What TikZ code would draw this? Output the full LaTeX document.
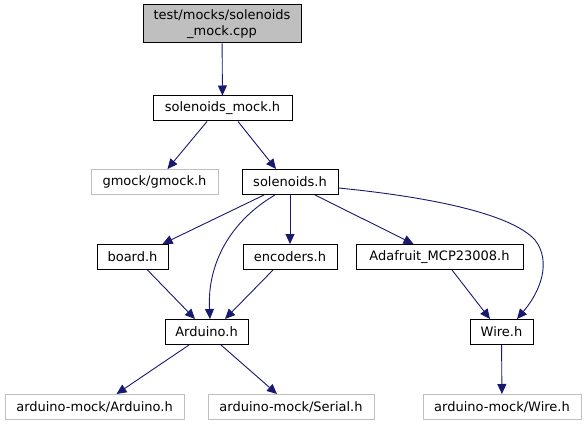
\documentclass[tikz,border=0pt]{standalone}
\usepackage{fontspec}
\setmainfont{DejaVu Sans}
\usetikzlibrary{arrows.meta}
\definecolor{edgeblue}{HTML}{191970}
\definecolor{greyfill}{HTML}{BFBFBF}
\begin{document}
\begin{tikzpicture}[x=1pt,y=-1pt,
  box/.style={draw=black, line width=1pt, rectangle, inner sep=0pt, minimum height=25pt,
    font=\fontsize{13}{16}\selectfont, fill=white},
  ext/.style={box, draw=greyfill},
  edge/.style={draw=edgeblue, line width=0.9pt, -{Triangle[length=10pt,width=9pt]}}]
\useasboundingbox[fill=white] (0,0) rectangle (586,425);

\node[box, minimum width=158pt, minimum height=38pt, fill=greyfill, align=center] (top) at (222,24) {test/mocks/solenoids\\\_mock.cpp};
\node[box, minimum width=139pt] (smock) at (222.5,108.5) {solenoids\_mock.h};
\node[ext, minimum width=127pt] (gmock) at (154.5,182) {gmock/gmock.h};
\node[box, minimum width=96pt] (sol) at (290,182) {solenoids.h};
\node[box, minimum width=71pt] (board) at (132.5,257) {board.h};
\node[box, minimum width=94pt] (enc) at (290,257) {encoders.h};
\node[box, minimum width=167pt] (ada) at (439.5,257) {Adafruit\_MCP23008.h};
\node[box, minimum width=83pt] (ard) at (206.5,332) {Arduino.h};
\node[box, minimum width=63pt] (wire) at (501.5,332) {Wire.h};
\node[ext, minimum width=179pt] (mard) at (94.5,407) {arduino-mock/Arduino.h};
\node[ext, minimum width=166pt] (mser) at (291,407) {arduino-mock/Serial.h};
\node[ext, minimum width=158pt] (mwire) at (502,407) {arduino-mock/Wire.h};

\draw[edge] (top) -- (smock);
\draw[edge] ([xshift=-15.5pt]smock.south) -- ([xshift=13pt]gmock.north);
\draw[edge] ([xshift=15.5pt]smock.south) -- ([xshift=-14pt]sol.north);
\draw[edge] ([xshift=-26pt]sol.south) -- ([xshift=30pt]board.north);
\draw[edge] ([xshift=-15pt]sol.south) .. controls (232,220) and (207,262) .. ([xshift=3.5pt]ard.north);
\draw[edge] (sol) -- (enc);
\draw[edge] ([xshift=25pt]sol.south) -- ([xshift=-26pt]ada.north);
\draw[edge] ([yshift=-6pt]sol.east) .. controls (420,196) and (510,212) .. (535,240)
  .. controls (552,262) and (540,292) .. ([xshift=15.5pt]wire.north);
\draw[edge] ([xshift=15pt]board.south) -- ([xshift=-11.5pt]ard.north);
\draw[edge] ([xshift=-17pt]enc.south) -- ([xshift=18.5pt]ard.north);
\draw[edge] ([xshift=12.5pt]ada.south) -- ([xshift=-11.5pt]wire.north);
\draw[edge] ([xshift=-17.5pt]ard.south) -- ([xshift=22pt]mard.north);
\draw[edge] ([xshift=14.5pt]ard.south) -- ([xshift=-14pt]mser.north);
\draw[edge] (wire) -- (mwire);
\end{tikzpicture}
\end{document}
